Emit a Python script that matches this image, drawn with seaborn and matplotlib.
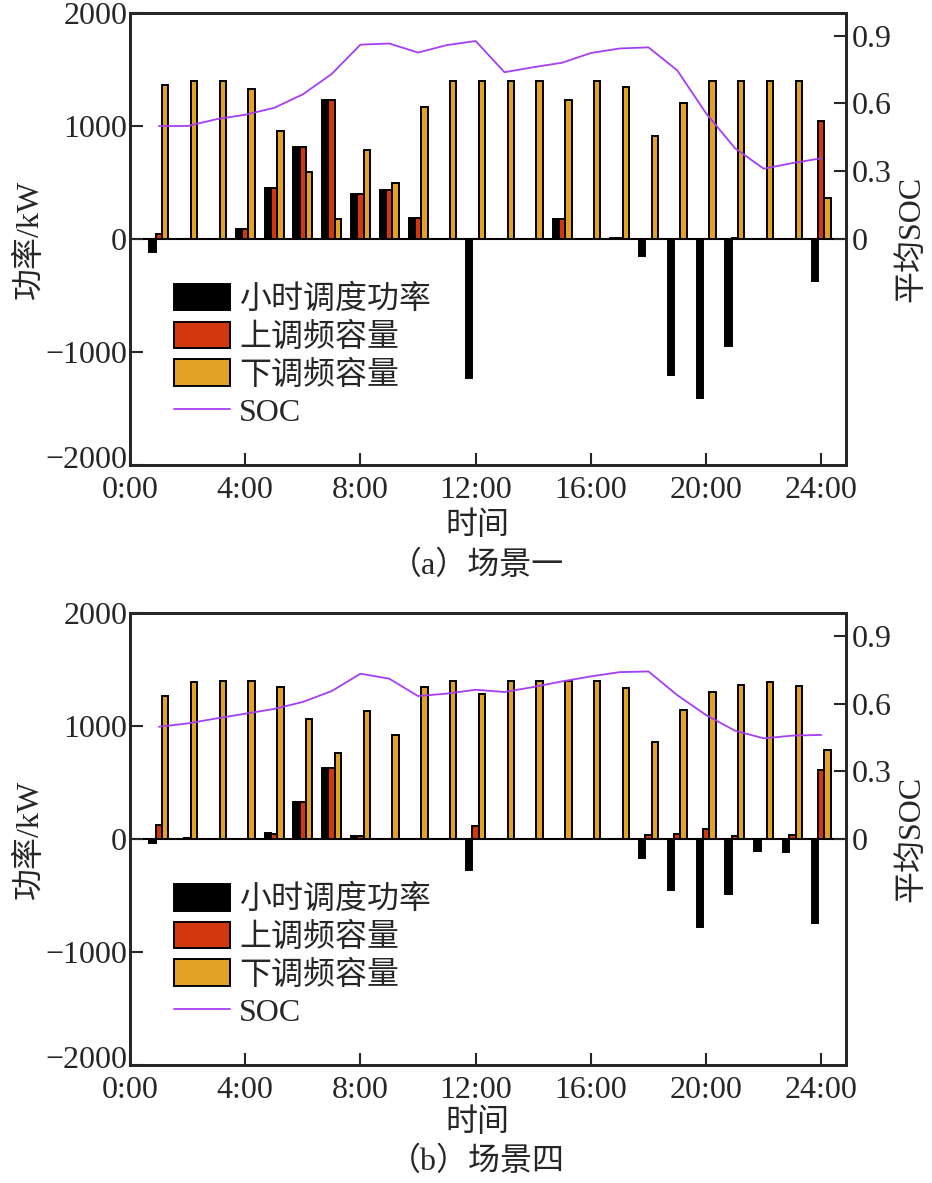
import numpy as np
import pandas as pd
import seaborn as sns
import matplotlib.pyplot as plt
import matplotlib.transforms as mtransforms
from matplotlib.patches import Patch
from matplotlib.lines import Line2D

# hourly data (hours 1..24)
hours = list(range(1, 25))

# scenario 1
p1 = [-115, 0, 0, 90, 450, 815, 1230, 400, 435, 185, 0, -1235, 0, 0, 175, 0, 10, -155, -1200, -1410, -945, 0, 0, -370]
u1 = [40, 0, 0, 88, 450, 815, 1230, 398, 435, 185, 0, 0, 0, 0, 175, 0, 10, 0, 0, 0, 8, 0, 0, 1040]
d1 = [1360, 1400, 1400, 1325, 955, 595, 180, 790, 495, 1170, 1400, 1400, 1400, 1400, 1230, 1400, 1345, 912, 1205, 1400, 1395, 1400, 1400, 365]
soc1 = [0.50, 0.50, 0.53, 0.55, 0.58, 0.64, 0.73, 0.86, 0.865, 0.825, 0.858, 0.876,
        0.738, 0.76, 0.78, 0.823, 0.843, 0.848, 0.746, 0.556, 0.402, 0.311, 0.336, 0.357]

# scenario 4
p4 = [-38, 0, 0, 0, 50, 330, 628, 30, 0, 0, 0, -270, 0, 0, 0, 0, 0, -165, -448, -776, -484, -103, -112, -743]
u4 = [127, 12, 0, 0, 44, 330, 628, 25, 0, 0, 0, 115, 0, 0, 0, 0, 0, 38, 47, 91, 29, 5, 35, 611]
d4 = [1265, 1390, 1400, 1400, 1345, 1062, 761, 1133, 920, 1342, 1398, 1283, 1400, 1400, 1395, 1400, 1336, 861, 1144, 1304, 1365, 1392, 1357, 790]
soc4 = [0.497, 0.512, 0.534, 0.555, 0.576, 0.607, 0.655, 0.732, 0.71, 0.633, 0.644, 0.661,
        0.651, 0.673, 0.698, 0.72, 0.739, 0.742, 0.637, 0.549, 0.48, 0.446, 0.458, 0.461]

names = ['小时调度功率', '上调频容量', '下调频容量']
colors = ['#000000', '#D2380E', '#E2A224']
soc_color = '#A53EF5'
xtick_pos = [0, 4, 8, 12, 16, 20, 24]
xtick_lab = ['0:00', '4:00', '8:00', '12:00', '16:00', '20:00', '24:00']

sns.set_style('ticks')
plt.rcParams['font.family'] = ['Liberation Serif', 'Noto Sans CJK SC']
plt.rcParams['font.size'] = 23
plt.rcParams['axes.linewidth'] = 2.0

fig = plt.figure(figsize=(9.32, 11.83), dpi=100)


def panel(rect, p, u, d, soc, caption, xlab_y, cap_y):
    ax = fig.add_axes(rect)
    df = pd.DataFrame({
        'hour': hours * 3,
        'value': p + u + d,
        'kind': [names[0]] * 24 + [names[1]] * 24 + [names[2]] * 24,
    })
    sns.barplot(data=df, x='hour', y='value', hue='kind', hue_order=names,
                palette=dict(zip(names, colors)), native_scale=True, width=0.66,
                errorbar=None, saturation=1, edgecolor='black', linewidth=1.4,
                legend=False, ax=ax)
    ax.set_xlim(0, 24.85)
    ax.set_ylim(-2000, 2000)
    ax.set_yticks([-2000, -1000, 0, 1000, 2000])
    ax.set_xticks(xtick_pos)
    ax.set_xticklabels(xtick_lab)
    ax.tick_params(direction='in', length=9, width=1.5, pad=2)
    ax.tick_params(axis='x', pad=8)
    ax.set_xlabel('')
    ax.set_ylabel('功率/kW', labelpad=0)
    ax.axhline(0, color='black', lw=1.5, zorder=0.5)
    # lift the bottom y label a little so it does not touch 0:00
    lab = ax.get_yticklabels()[0]
    lab.set_transform(lab.get_transform() + mtransforms.ScaledTranslation(0, 6 / 72, fig.dpi_scale_trans))

    ax2 = ax.twinx()
    sns.lineplot(x=hours, y=soc, color=soc_color, lw=1.3, ax=ax2)
    ax2.set_ylim(-1, 1)
    ax2.set_yticks([0, 0.3, 0.6, 0.9])
    ax2.set_yticklabels(['0', '0.3', '0.6', '0.9'])
    ax2.tick_params(direction='in', length=9, width=1.5, pad=4)
    ax2.set_ylabel('平均SOC', labelpad=4)

    handles = [Patch(facecolor=c, edgecolor='black', linewidth=1.4) for c in colors]
    handles.append(Line2D([], [], color=soc_color, lw=1.3))
    ax.legend(handles, names + ['SOC'], loc='upper left', bbox_to_anchor=(0.03, 0.45),
              frameon=False, handlelength=1.75, handleheight=0.9, handletextpad=0.3,
              labelspacing=0.2, borderpad=0.2)

    fig.text(0.512, xlab_y, '时间', ha='center', va='center')
    fig.text(0.512, cap_y, caption, ha='center', va='center')


panel([0.1395, 0.607, 0.768, 0.382], p1, u1, d1, soc1, '（a）场景一', 1 - 526 / 1183, 1 - 566 / 1183)
panel([0.1395, 0.0997, 0.768, 0.382], p4, u4, d4, soc4, '（b）场景四', 1 - 1123 / 1183, 1 - 1162 / 1183)

fig.savefig('out.png', dpi=100)
